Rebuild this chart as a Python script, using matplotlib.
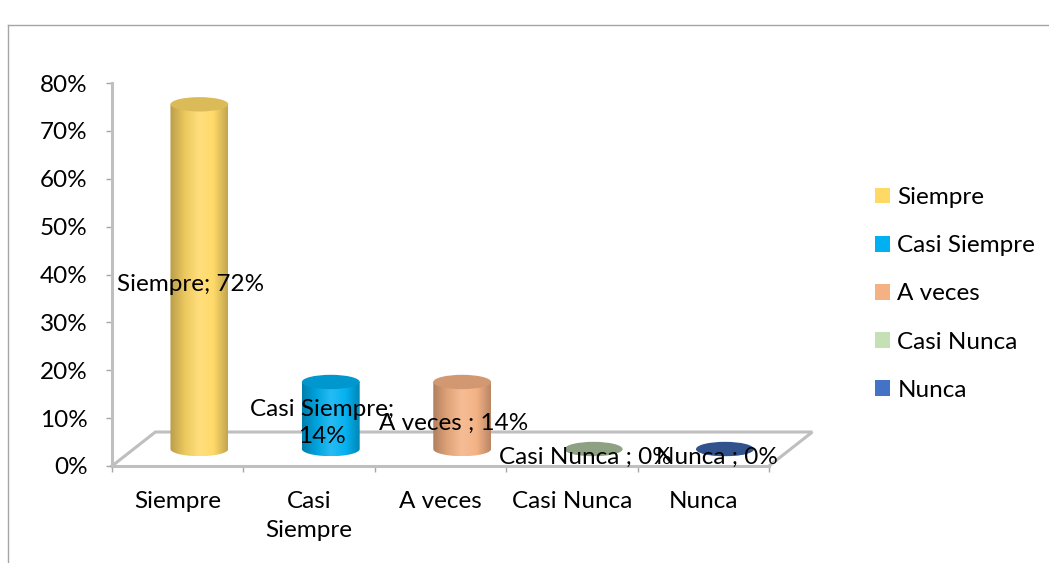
import matplotlib
matplotlib.use('Agg')
import matplotlib.pyplot as plt
import numpy as np
from matplotlib.colors import LinearSegmentedColormap, to_rgb
from matplotlib.patches import Ellipse, Polygon, Patch
from matplotlib.lines import Line2D

# Chart data
categories = ['Siempre', 'Casi Siempre', 'A veces', 'Casi Nunca', 'Nunca']
tick_labels = ['Siempre', 'Casi\nSiempre', 'A veces', 'Casi Nunca', 'Nunca']
values = [72, 14, 14, 0, 0]
bar_labels = ['Siempre; 72%', 'Casi Siempre;\n14%', 'A veces ; 14%',
              'Casi Nunca ; 0%', 'Nunca ; 0%']
colors = ['#FFD966', '#00B0F0', '#F4B183', '#C5E0B4', '#4472C4']
yticks = [0, 10, 20, 30, 40, 50, 60, 70, 80]

plt.rcParams['font.family'] = ['Lato', 'DejaVu Sans']
FS = 17.5
GRAY = '#BFBFBF'

W, H = 1049, 563
fig = plt.figure(figsize=(W / 100, H / 100), dpi=100)
ax = fig.add_axes([112 / W, 97 / H, 657 / W, 383 / H])

# 3D depth of the floor (category units, percent units)
dx, dy = 0.33, 7.1
bar_w, ell_h = 0.44, 3.0


def shade(c, f):
    r = np.array(to_rgb(c))
    if f < 1:
        return tuple(r * f)
    return tuple(np.clip(r + (1 - r) * (f - 1), 0, 1))


def cylinder(ax, xc, y0, h, w, eh, color):
    t = np.linspace(np.pi, 2 * np.pi, 60)
    verts = list(zip(xc + w / 2 * np.cos(t), y0 + eh / 2 * np.sin(t)))
    verts += [(xc + w / 2, y0 + h), (xc - w / 2, y0 + h)]
    body = Polygon(verts, closed=True, facecolor='none', edgecolor='none')
    ax.add_patch(body)
    cmap = LinearSegmentedColormap.from_list(
        'cyl', [shade(color, .72), shade(color, .92), shade(color, 1.15),
                shade(color, 1.02), shade(color, .76)])
    grad = np.linspace(0, 1, 256)[None, :]
    im = ax.imshow(grad, cmap=cmap, aspect='auto', origin='lower', zorder=3,
                   extent=[xc - w / 2, xc + w / 2, y0 - eh / 2, y0 + h])
    im.set_clip_path(body)
    top_f = .86 if h > 0 else .72
    ax.add_patch(Ellipse((xc, y0 + h), w, eh, facecolor=shade(color, top_f),
                         edgecolor='none', zorder=4))


# floor
x0, x1 = -0.5, len(categories) - 0.5
ax.plot([x0, x0 + dx, x1 + dx, x1], [0, dy, dy, 0], color=GRAY, lw=2.2,
        clip_on=False, zorder=1, solid_joinstyle='miter')

for i, (v, c) in enumerate(zip(values, colors)):
    cylinder(ax, i + dx / 2, dy / 2, v, bar_w, ell_h, c)

for i, (v, lab) in enumerate(zip(values, bar_labels)):
    ax.text(i + 0.1, v / 2 + 1.9, lab, ha='center', va='center',
            fontsize=FS, zorder=6, linespacing=1.35)

ax.set_xlim(x0, x1)
ax.set_ylim(0, 80)
for s in ['top', 'right']:
    ax.spines[s].set_visible(False)
for s in ['left', 'bottom']:
    ax.spines[s].set_color(GRAY)
    ax.spines[s].set_linewidth(2.2)

ax.set_yticks(yticks)
ax.set_yticklabels([f'{t}%' for t in yticks])
ax.tick_params(axis='y', length=4.5, width=1, color='#A6A6A6', pad=13,
               labelsize=FS)
ax.set_xticks(range(len(categories)))
ax.set_xticklabels(tick_labels, linespacing=1.45)
ax.set_xticks(np.arange(x0, x1 + 0.01, 1), minor=True)
ax.tick_params(axis='x', which='major', length=0, pad=18, labelsize=FS)
ax.tick_params(axis='x', which='minor', length=4.5, width=1, color='#A6A6A6')

handles = [Patch(facecolor=c, edgecolor='none') for c in colors]
fig.legend(handles, categories, loc='upper left',
           bbox_to_anchor=(875 / W, 1 - 187 / H), frameon=False, fontsize=FS,
           handlelength=0.62, handleheight=0.62, handletextpad=0.3,
           labelspacing=1.12, borderpad=0, borderaxespad=0)

# chart frame
fig.add_artist(Line2D([8 / W, 8 / W], [0, 1 - 25 / H], color='#A6A6A6', lw=1))
fig.add_artist(Line2D([8 / W, 1], [1 - 25 / H, 1 - 25 / H], color='#A6A6A6', lw=1))

fig.savefig('out.png', dpi=100)
